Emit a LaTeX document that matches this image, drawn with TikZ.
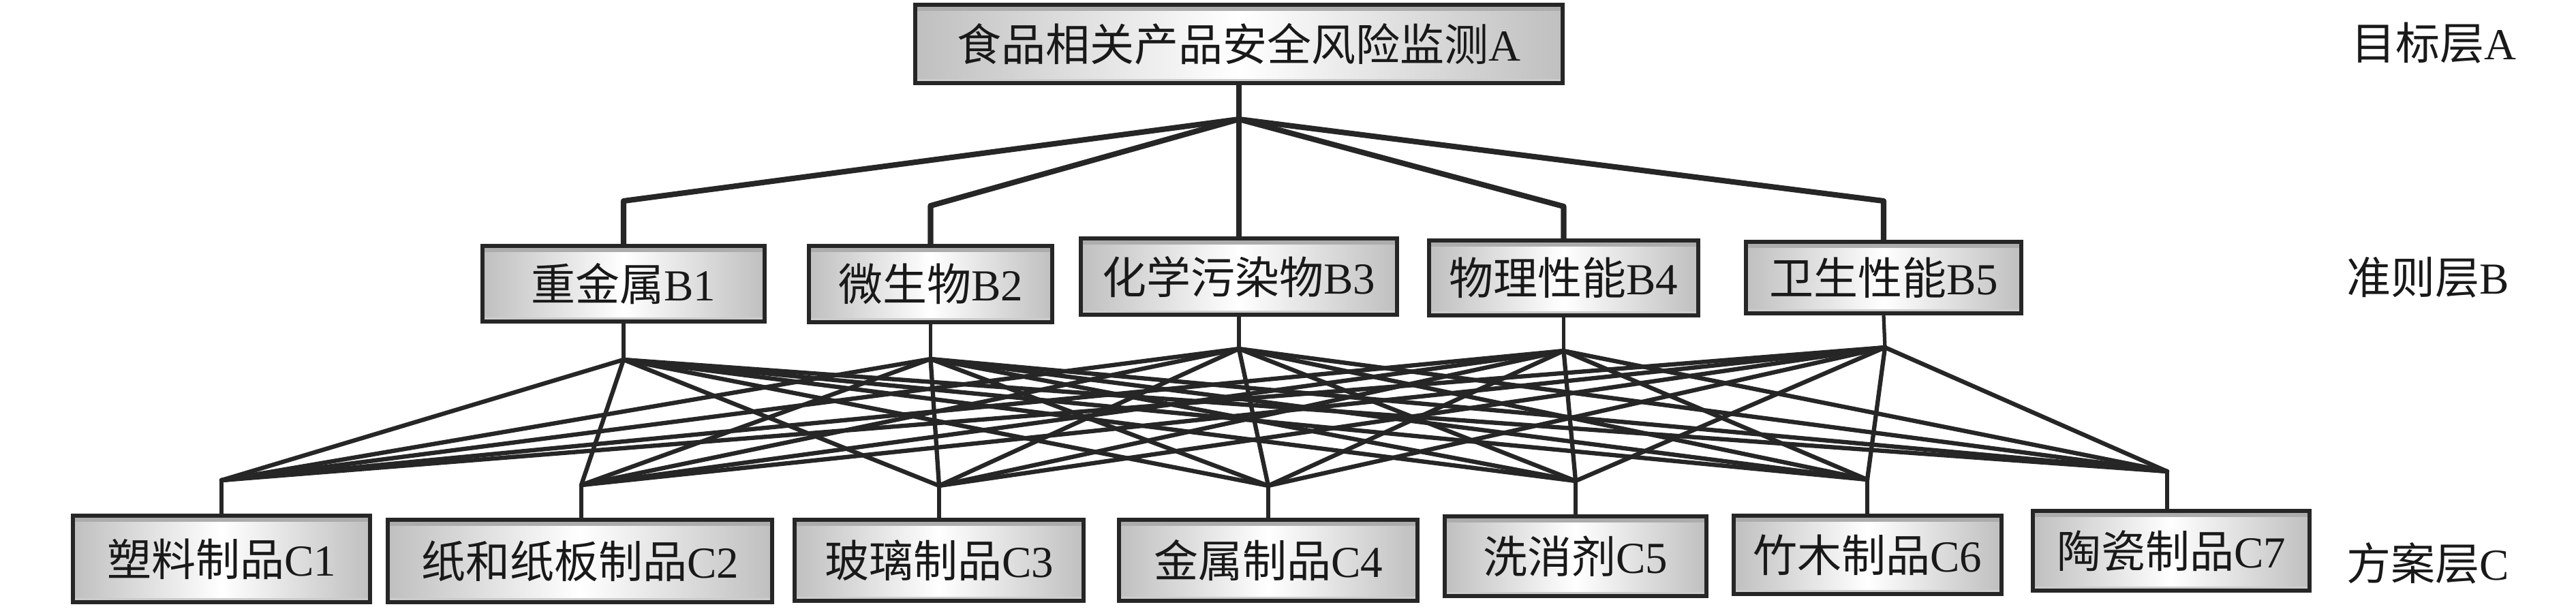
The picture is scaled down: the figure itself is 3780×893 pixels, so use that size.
\documentclass[tikz,border=0pt]{standalone}
\usepackage{fontspec}
\setmainfont{Liberation Serif}
\newfontfamily\cjk{Noto Sans CJK SC}
\newcommand{\zh}[1]{{\cjk #1}}
\tikzset{
  box/.style={draw=black!85, line width=1.8pt, inner sep=0pt,
    left color=gray!50, right color=gray!50, middle color=white,
    font=\fontsize{18.5pt}{20pt}\selectfont, text=black!90,
    path picture={
      \fill[gray!65] (path picture bounding box.north west) rectangle ([yshift=-0.9mm]path picture bounding box.north east);
      \fill[gray!40] (path picture bounding box.south west) rectangle ([yshift=0.6mm]path picture bounding box.south east);
    }},
  lab/.style={anchor=west, inner sep=0pt, font=\fontsize{18.5pt}{20pt}\selectfont, text=black!90},
  upper/.style={draw=black!85, line width=2.3pt, line join=round, line cap=round},
  lower/.style={draw=black!85, line width=1.8pt, line join=round, line cap=round},
  stub/.style={draw=black!85, line width=1.5pt},
}
\begin{document}
\begin{tikzpicture}[x=0.1mm, y=-0.1mm]
\useasboundingbox (0,0) rectangle (3780,893);
% top node
\node[box, minimum width=95mm, minimum height=11.5mm] (A) at (1818,64.5) {\zh{食品相关产品安全风险监测}A};
% criteria
\node[box, minimum width=41.4mm, minimum height=11.1mm] (B1) at (915,416.5) {\zh{重金属}B1};
\node[box, minimum width=35.7mm, minimum height=11.2mm] (B2) at (1365.5,417) {\zh{微生物}B2};
\node[box, minimum width=46.4mm, minimum height=11.2mm] (B3) at (1818,406) {\zh{化学污染物}B3};
\node[box, minimum width=39.5mm, minimum height=11.0mm] (B4) at (2294.5,408) {\zh{物理性能}B4};
\node[box, minimum width=40.4mm, minimum height=10.5mm] (B5) at (2764,407.5) {\zh{卫生性能}B5};
% alternatives
\node[box, minimum width=43.6mm, minimum height=12.7mm] (C1) at (325,820.5) {\zh{塑料制品}C1};
\node[box, minimum width=56.4mm, minimum height=12.1mm] (C2) at (851,823.5) {\zh{纸和纸板制品}C2};
\node[box, minimum width=42.4mm, minimum height=11.9mm] (C3) at (1378,822.5) {\zh{玻璃制品}C3};
\node[box, minimum width=43.8mm, minimum height=11.9mm] (C4) at (1861,822.5) {\zh{金属制品}C4};
\node[box, minimum width=38.4mm, minimum height=11.7mm] (C5) at (2312,816.5) {\zh{洗消剂}C5};
\node[box, minimum width=39.3mm, minimum height=11.5mm] (C6) at (2740.5,814.5) {\zh{竹木制品}C6};
\node[box, minimum width=40.6mm, minimum height=11.7mm] (C7) at (3186,808.5) {\zh{陶瓷制品}C7};
% layer labels
\node[lab] (LA) at (3450,63) {\zh{目标层}A};
\node[lab] (LB) at (3443,407) {\zh{准则层}B};
\node[lab] (LC) at (3443,827) {\zh{方案层}C};
% junctions
\coordinate (jA) at (1818,175);
\coordinate (kB1) at (915,295);
\coordinate (kB2) at (1365.5,302);
\coordinate (kB4) at (2294.5,303);
\coordinate (kB5) at (2764,295);
\coordinate (jB1) at (915,528);
\coordinate (jB2) at (1365.5,527);
\coordinate (jB3) at (1818,512);
\coordinate (jB4) at (2294.5,515);
\coordinate (jB5) at (2766,510);
\coordinate (jC1) at (325,705);
\coordinate (jC2) at (853,712);
\coordinate (jC3) at (1378,713);
\coordinate (jC4) at (1861,713);
\coordinate (jC5) at (2312,706);
\coordinate (jC6) at (2740,704);
\coordinate (jC7) at (3180,692);
% upper connectors
\draw[upper] (A.south) -- (jA);
\draw[upper] (jA) -- (kB1) -- (B1.north);
\draw[upper] (jA) -- (kB2) -- (B2.north);
\draw[upper] (jA) -- (B3.north);
\draw[upper] (jA) -- (kB4) -- (B4.north);
\draw[upper] (jA) -- (kB5) -- (B5.north);
% B stubs
\foreach \b in {1,...,5} \draw[stub] (B\b.south) -- (jB\b);
% mesh
\foreach \b in {1,...,5} {
  \foreach \c in {1,...,7} {
    \draw[lower] (jB\b) -- (jC\c);
  }
}
% C stubs
\foreach \c in {1,...,7} \draw[stub] (jC\c) -- (jC\c |- C\c.north);
\end{tikzpicture}
\end{document}
